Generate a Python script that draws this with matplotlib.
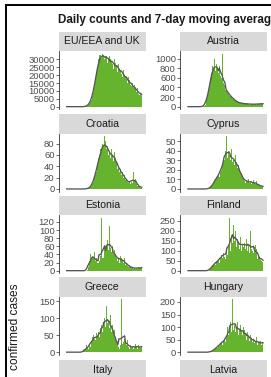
import matplotlib
matplotlib.use("Agg")
import matplotlib.pyplot as plt
from matplotlib.patches import Rectangle
import numpy as np
import pandas as pd

plt.rcParams['font.family'] = ['Liberation Sans', 'DejaVu Sans']

# daily confirmed cases, 80 days per country
eu = [0]*18 + [10, 40, 120, 300, 600, 1100, 1900, 3000, 4500, 6500,
               9000, 12500, 16000, 20000, 24000, 27000, 30000, 33000, 33000, 31000,
               33500, 33000, 30000, 32500, 32000, 28000, 31000, 32000, 30000, 29000,
               27000, 24000, 30000, 28000, 26000, 25000, 22000, 27000, 24000, 23000,
               21000, 19000, 23000, 20000, 19000, 18000, 15000, 19000, 17000, 14000,
               13000, 15000, 12000, 13500, 12000, 11000, 9000, 12000, 8000, 7500,
               8000, 6500]
austria = [0]*16 + [5, 15, 40, 80, 150, 250, 350, 450, 600, 700,
                    850, 800, 1000, 750, 900, 800, 700, 850, 650, 600,
                    1100, 500, 450, 400, 350, 330, 300, 260, 220, 250,
                    200, 160, 180, 140, 120, 110, 90, 100, 80, 75,
                    70, 65, 80, 60, 55, 60, 50, 70, 55, 45,
                    60, 50, 55, 40, 65, 50, 45, 60, 55, 50,
                    70, 60, 55, 65]
croatia = [0]*20 + [0, 1, 0, 1, 2, 3, 5, 8, 12, 20,
                    25, 30, 40, 45, 55, 60, 70, 65, 80, 75,
                    93, 85, 70, 75, 60, 65, 55, 70, 60, 50,
                    65, 55, 45, 50, 35, 40, 30, 35, 25, 30,
                    20, 25, 15, 18, 12, 10, 14, 8, 12, 10,
                    30, 15, 18, 12, 8, 5, 6, 3, 2, 1]
cyprus = [0]*23 + [1, 2, 3, 4, 6, 8, 10, 12, 14, 16,
                   12, 18, 20, 25, 28, 30, 35, 40, 55, 32,
                   38, 35, 30, 42, 28, 30, 25, 35, 28, 22,
                   25, 20, 18, 15, 12, 10, 12, 8, 6, 9,
                   7, 10, 6, 8, 5, 7, 9, 6, 5, 8,
                   4, 5, 3, 4, 2, 3, 2]
estonia = [0]*22 + [2, 10, 25, 40, 30, 35, 30, 45, 25, 30,
                    20, 15, 20, 25, 35, 130, 30, 30, 55, 50,
                    60, 75, 50, 110, 55, 45, 60, 40, 50, 35,
                    30, 40, 25, 30, 20, 35, 30, 25, 20, 30,
                    15, 20, 12, 10, 15, 8, 6, 10, 5, 7,
                    5, 8, 6, 4, 9, 7, 6, 8]
finland = [0]*23 + [5, 10, 20, 30, 25, 40, 30, 50, 45, 60,
                    40, 70, 80, 65, 90, 70, 110, 60, 95, 80,
                    120, 265, 100, 180, 140, 230, 150, 200, 120, 160,
                    140, 110, 170, 100, 130, 120, 150, 140, 110, 160,
                    100, 130, 90, 200, 110, 100, 90, 120, 130, 110,
                    60, 80, 70, 55, 50, 45, 60]
greece = [0]*18 + [2, 5, 10, 20, 15, 8, 25, 15, 30, 45,
                   50, 40, 35, 55, 45, 30, 60, 45, 70, 80,
                   60, 90, 100, 75, 135, 85, 95, 70, 110, 60,
                   80, 50, 65, 40, 30, 20, 25, 15, 10, 20,
                   155, 25, 30, 40, 30, 20, 35, 15, 10, 20,
                   12, 18, 10, 15, 25, 12, 18, 10, 20, 15,
                   12, 18]
hungary = [0]*24 + [2, 4, 5, 8, 12, 15, 20, 18, 30, 25,
                    35, 40, 30, 50, 45, 55, 40, 60, 100, 70,
                    90, 120, 80, 210, 90, 110, 80, 100, 120, 70,
                    90, 110, 80, 70, 100, 60, 90, 75, 50, 80,
                    60, 45, 70, 55, 40, 50, 35, 45, 60, 30,
                    40, 35, 45, 30, 40, 35]

panels = [
    ("EU/EEA and UK", eu, np.arange(0, 30001, 5000)),
    ("Austria", austria, np.arange(0, 1001, 200)),
    ("Croatia", croatia, np.arange(0, 81, 20)),
    ("Cyprus", cyprus, np.arange(0, 51, 10)),
    ("Estonia", estonia, np.arange(0, 121, 20)),
    ("Finland", finland, np.arange(0, 251, 50)),
    ("Greece", greece, np.arange(0, 151, 50)),
    ("Hungary", hungary, np.arange(0, 201, 50)),
]
bottom_strips = ["Italy", "Latvia"]

W, H = 271, 377
fig = plt.figure(figsize=(W / 100, H / 100), dpi=100)

def box(x0, y0, x1, y1):
    return [x0 / W, 1 - y1 / H, (x1 - x0) / W, (y1 - y0) / H]

col_x = [(58.7, 145.7), (180, 267)]
row_top = [31.5, 113.8, 195.5, 277.0, 359.8]
strip_h = 19.8
panel_h = 58

def strip(label, x0, x1, y0):
    sa = fig.add_axes(box(x0, y0, x1, y0 + strip_h))
    sa.set_facecolor('#d9d9d9')
    for s in sa.spines.values():
        s.set_visible(False)
    sa.set_xticks([])
    sa.set_yticks([])
    sa.text(0.5, 0.5, label, transform=sa.transAxes, ha='center', va='center',
            fontsize=7.6, color='#1a1a1a')

for i, (name, vals, ticks) in enumerate(panels):
    r, c = divmod(i, 2)
    x0, x1 = col_x[c]
    y0 = row_top[r]
    strip(name, x0, x1, y0)
    ax = fig.add_axes(box(x0, y0 + strip_h, x1, y0 + strip_h + panel_h))
    days = np.arange(len(vals))
    ax.bar(days, vals, width=1.0, color='#66b32e', linewidth=0)
    avg = pd.Series(vals, dtype=float).rolling(7, center=True, min_periods=1).mean()
    ax.plot(days, avg, color='#555555', lw=0.95)
    m = max(vals)
    ax.set_ylim(-0.05 * m, 1.05 * m)
    ax.set_xlim(-8.4, 83.2)
    ax.set_yticks(ticks)
    ax.set_yticklabels([str(t) for t in ticks])
    ax.set_xticks([])
    for s in ['top', 'right', 'bottom']:
        ax.spines[s].set_visible(False)
    ax.spines['left'].set_color('#333333')
    ax.spines['left'].set_linewidth(0.6)
    ax.tick_params(axis='y', length=2, width=0.5, color='#333333', pad=1,
                   labelsize=6.8, labelcolor='#4d4d4d')

for c, name in enumerate(bottom_strips):
    strip(name, col_x[c][0], col_x[c][1], row_top[4])

fig.text(58 / W, 1 - 19.5 / H, "Daily counts and 7-day moving average",
         ha='left', va='center', fontsize=8.4, fontweight='bold', color='#1a1a1a')
fig.text(15.5 / W, 1 - 283 / H, "confirmed cases", rotation=90,
         ha='center', va='top', fontsize=8.6, color='#1a1a1a')

fig.add_artist(Rectangle((5.5 / W, -0.1), 1.5, 1.1 - 5.5 / H,
                         transform=fig.transFigure, fill=False, lw=1.4, ec='black'))

fig.savefig("out.png", dpi=100)
